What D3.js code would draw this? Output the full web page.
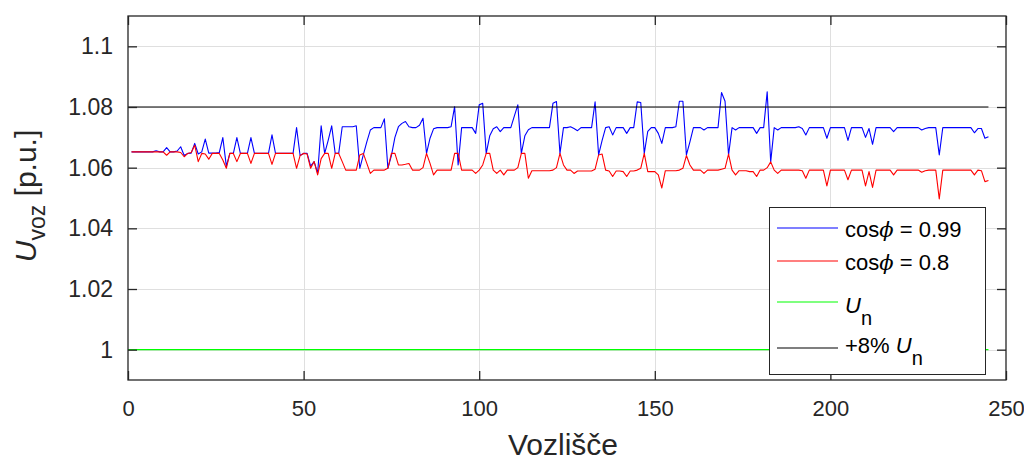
<!DOCTYPE html>
<html><head><meta charset="utf-8">
<script src="https://cdn.jsdelivr.net/npm/d3@7"></script>
<style>html,body{margin:0;padding:0;background:#fff;} svg{display:block;font-family:"Liberation Sans",Arial,Helvetica,sans-serif;}</style>
</head><body><svg id="c" width="1024" height="464"></svg>
<script>
// ---- data ----
const blue = [
1.0652,1.0652,1.0652,1.0652,1.0652,1.0652,1.0652,1.0656,1.0652,1.0652,
1.0666,1.0652,1.0652,1.0655,1.0669,1.0640,1.0647,1.0648,1.0680,1.0645,
1.0652,1.0694,1.0648,1.0648,1.0648,1.0650,1.0699,1.0605,1.0647,1.0647,
1.0699,1.0647,1.0647,1.0647,1.0699,1.0647,1.0647,1.0647,1.0647,1.0647,
1.0708,1.0647,1.0647,1.0647,1.0647,1.0647,1.0647,1.0732,1.0640,1.0647,
1.0647,1.0605,1.0620,1.0582,1.0738,1.0647,1.0690,1.0738,1.0647,1.0647,
1.0735,1.0735,1.0735,1.0735,1.0738,1.0598,1.0642,1.0685,1.0724,1.0732,
1.0732,1.0732,1.0761,1.0598,1.0640,1.0700,1.0735,1.0746,1.0752,1.0735,
1.0732,1.0732,1.0740,1.0763,1.0647,1.0697,1.0728,1.0732,1.0732,1.0732,
1.0732,1.0735,1.0801,1.0609,1.0732,1.0732,1.0732,1.0732,1.0713,1.0807,
1.0812,1.0647,1.0705,1.0728,1.0735,1.0719,1.0732,1.0732,1.0732,1.0770,
1.0807,1.0647,1.0705,1.0725,1.0732,1.0732,1.0732,1.0732,1.0732,1.0732,
1.0812,1.0818,1.0647,1.0732,1.0732,1.0735,1.0729,1.0722,1.0732,1.0732,
1.0732,1.0732,1.0817,1.0642,1.0690,1.0732,1.0735,1.0708,1.0732,1.0732,
1.0732,1.0713,1.0732,1.0732,1.0817,1.0815,1.0647,1.0720,1.0732,1.0732,
1.0713,1.0680,1.0732,1.0732,1.0732,1.0735,1.0819,1.0819,1.0642,1.0685,
1.0732,1.0732,1.0732,1.0724,1.0732,1.0732,1.0732,1.0732,1.0848,1.0819,
1.0642,1.0732,1.0724,1.0732,1.0732,1.0732,1.0732,1.0732,1.0713,1.0732,
1.0732,1.0850,1.0619,1.0732,1.0724,1.0732,1.0732,1.0732,1.0732,1.0732,
1.0735,1.0729,1.0708,1.0732,1.0732,1.0732,1.0732,1.0732,1.0697,1.0732,
1.0732,1.0732,1.0732,1.0732,1.0690,1.0732,1.0732,1.0732,1.0732,1.0700,
1.0729,1.0677,1.0732,1.0732,1.0732,1.0732,1.0732,1.0719,1.0732,1.0732,
1.0732,1.0732,1.0732,1.0732,1.0732,1.0724,1.0729,1.0732,1.0732,1.0732,
1.0642,1.0732,1.0732,1.0732,1.0732,1.0732,1.0732,1.0732,1.0732,1.0732,
1.0715,1.0729,1.0729,1.0697,1.0702
];
const red = [
1.0652,1.0652,1.0652,1.0652,1.0652,1.0652,1.0652,1.0652,1.0652,1.0652,
1.0641,1.0652,1.0652,1.0652,1.0650,1.0636,1.0647,1.0650,1.0674,1.0620,
1.0647,1.0645,1.0628,1.0647,1.0647,1.0647,1.0625,1.0598,1.0647,1.0647,
1.0620,1.0647,1.0647,1.0647,1.0614,1.0647,1.0647,1.0647,1.0647,1.0647,
1.0611,1.0647,1.0647,1.0647,1.0647,1.0647,1.0647,1.0598,1.0640,1.0647,
1.0645,1.0598,1.0620,1.0576,1.0630,1.0647,1.0647,1.0598,1.0647,1.0647,
1.0620,1.0592,1.0592,1.0592,1.0592,1.0642,1.0647,1.0614,1.0581,1.0592,
1.0592,1.0592,1.0592,1.0598,1.0647,1.0647,1.0609,1.0609,1.0611,1.0614,
1.0592,1.0592,1.0592,1.0600,1.0647,1.0614,1.0576,1.0592,1.0592,1.0592,
1.0592,1.0592,1.0647,1.0647,1.0592,1.0592,1.0592,1.0592,1.0581,1.0592,
1.0609,1.0647,1.0647,1.0592,1.0581,1.0592,1.0576,1.0592,1.0592,1.0592,
1.0600,1.0647,1.0647,1.0565,1.0590,1.0590,1.0590,1.0590,1.0590,1.0590,
1.0592,1.0600,1.0647,1.0609,1.0592,1.0592,1.0581,1.0589,1.0589,1.0589,
1.0589,1.0589,1.0595,1.0642,1.0645,1.0592,1.0589,1.0571,1.0589,1.0589,
1.0587,1.0571,1.0589,1.0589,1.0592,1.0598,1.0647,1.0587,1.0587,1.0587,
1.0576,1.0533,1.0590,1.0590,1.0590,1.0590,1.0592,1.0598,1.0640,1.0609,
1.0592,1.0592,1.0592,1.0581,1.0592,1.0592,1.0592,1.0592,1.0595,1.0598,
1.0645,1.0592,1.0576,1.0590,1.0590,1.0590,1.0587,1.0587,1.0571,1.0592,
1.0592,1.0600,1.0619,1.0592,1.0581,1.0592,1.0592,1.0592,1.0592,1.0592,
1.0592,1.0590,1.0565,1.0592,1.0592,1.0592,1.0592,1.0592,1.0540,1.0592,
1.0592,1.0592,1.0592,1.0592,1.0560,1.0592,1.0592,1.0592,1.0592,1.0540,
1.0587,1.0535,1.0592,1.0592,1.0592,1.0592,1.0592,1.0576,1.0592,1.0592,
1.0592,1.0592,1.0592,1.0592,1.0592,1.0585,1.0590,1.0592,1.0592,1.0592,
1.0497,1.0592,1.0592,1.0592,1.0592,1.0592,1.0592,1.0592,1.0592,1.0592,
1.0576,1.0592,1.0590,1.0554,1.0558
];
const unValue = 1.0;
const plus8Value = 1.08;
const refXRange = [0, 245];
const xTicks = [0, 50, 100, 150, 200, 250];
const yTicks = [1, 1.02, 1.04, 1.06, 1.08, 1.1];
const yTickLabels = ["1", "1.02", "1.04", "1.06", "1.08", "1.1"];
const xLabel = "Vozlišče";
const seriesColors = ["#0000ff", "#ff0000", "#00ff00", "#000000"];

// ---- layout ----
const svg = d3.select("#c");
const L = 128, R = 1006, T = 16, B = 380;
const x = d3.scaleLinear().domain([0, 250]).range([L, R]);
const y = d3.scaleLinear().domain([0.99, 1.11]).range([B, T]);
const ink = "#262626";

// grid
const g = svg.append("g");
g.selectAll("line.gx").data(xTicks.filter(d => d > 0 && d < 250)).enter().append("line")
  .attr("x1", d => Math.round(x(d)) + 0.5).attr("x2", d => Math.round(x(d)) + 0.5)
  .attr("y1", T).attr("y2", B).attr("stroke", "#dfdfdf").attr("stroke-width", 1);
g.selectAll("line.gy").data(yTicks).enter().append("line")
  .attr("y1", d => Math.round(y(d)) + 0.5).attr("y2", d => Math.round(y(d)) + 0.5)
  .attr("x1", L).attr("x2", R).attr("stroke", "#dfdfdf").attr("stroke-width", 1);

// series
const nodes = blue.map((_, i) => i + 1);
const line = d3.line().x(d => x(d[0])).y(d => y(d[1]));
const series = [
  nodes.map((n, i) => [n, blue[i]]),
  nodes.map((n, i) => [n, red[i]]),
  refXRange.map(n => [n, unValue]),
  refXRange.map(n => [n, plus8Value])
];
series.forEach((s, k) => {
  svg.append("path").datum(s).attr("d", line).attr("fill", "none")
    .attr("stroke", seriesColors[k]).attr("stroke-width", 1.1).attr("stroke-linejoin", "round");
});

// axes box and ticks
const ax = svg.append("g");
const xb = d3.axisBottom(x).tickValues(xTicks).tickSize(-9).tickPadding(20).tickFormat(d3.format("d"));
const xt = d3.axisTop(x).tickValues(xTicks).tickSize(-9).tickFormat("");
const yl = d3.axisLeft(y).tickValues(yTicks).tickSize(-9).tickPadding(15).tickFormat((d, i) => yTickLabels[i]);
const yr = d3.axisRight(y).tickValues(yTicks).tickSize(-9).tickFormat("");
function style(sel, fs) {
  sel.selectAll(".domain").attr("stroke", ink).attr("stroke-width", 1.3);
  sel.selectAll(".tick line").attr("stroke", ink).attr("stroke-width", 1.3);
  sel.selectAll(".tick text").attr("fill", ink).attr("font-size", fs)
     .attr("font-family", "'Liberation Sans', Arial, sans-serif");
}
ax.append("g").attr("transform", `translate(0,${B})`).call(xb).call(style, 22);
ax.append("g").attr("transform", `translate(0,${T})`).call(xt).call(style, 22);
ax.append("g").attr("transform", `translate(${L},0)`).call(yl).call(style, 23);
ax.append("g").attr("transform", `translate(${R},0)`).call(yr).call(style, 23);
ax.selectAll(".domain").attr("d", null);
ax.append("rect").attr("x", L).attr("y", T).attr("width", R - L).attr("height", B - T)
  .attr("fill", "none").attr("stroke", ink).attr("stroke-width", 1.3);

// axis labels
svg.append("text").attr("x", (L + R) / 2 - 4).attr("y", 455).attr("text-anchor", "middle")
  .attr("font-size", 30).attr("fill", ink).text(xLabel);
const yLab = svg.append("text").attr("transform", "translate(36,196) rotate(-90)")
  .attr("text-anchor", "middle").attr("font-size", 30).attr("fill", ink);
yLab.append("tspan").attr("font-style", "italic").text("U");
yLab.append("tspan").attr("font-size", 23).attr("dy", 9).text("voz");
yLab.append("tspan").attr("dy", -9).text(" [p.u.]");

// legend
const lg = svg.append("g");
lg.append("rect").attr("x", 769.5).attr("y", 207.5).attr("width", 216).attr("height", 167)
  .attr("fill", "#fff").attr("stroke", ink).attr("stroke-width", 1);
const legendRows = [
  {ly: 228, ty: 237, parts: [["cos", ""], ["\u03D5", "phi"], [" = 0.99", ""]]},
  {ly: 261, ty: 270, parts: [["cos", ""], ["\u03D5", "phi"], [" = 0.8", ""]]},
  {ly: 302, ty: 313, parts: [["U", "it"], ["n", "sub"]]},
  {ly: 348, ty: 353, parts: [["+8% ", ""], ["U", "it"], ["n", "sub"]]}
];
legendRows.forEach((r, k) => {
  lg.append("line").attr("x1", 777).attr("x2", 838).attr("y1", r.ly).attr("y2", r.ly)
    .attr("stroke", seriesColors[k]).attr("stroke-width", 1.1);
  const t = lg.append("text").attr("x", 845).attr("y", r.ty).attr("font-size", 22).attr("fill", "#000");
  r.parts.forEach(([s, kind]) => {
    const ts = t.append("tspan").text(s);
    if (kind === "phi") ts.attr("font-style", "italic").attr("font-family", "'DejaVu Serif', serif").attr("font-size", 21);
    if (kind === "it") ts.attr("font-style", "italic");
    if (kind === "sub") { ts.attr("dy", 12).attr("font-size", 20); }
  });
});
</script></body></html>
